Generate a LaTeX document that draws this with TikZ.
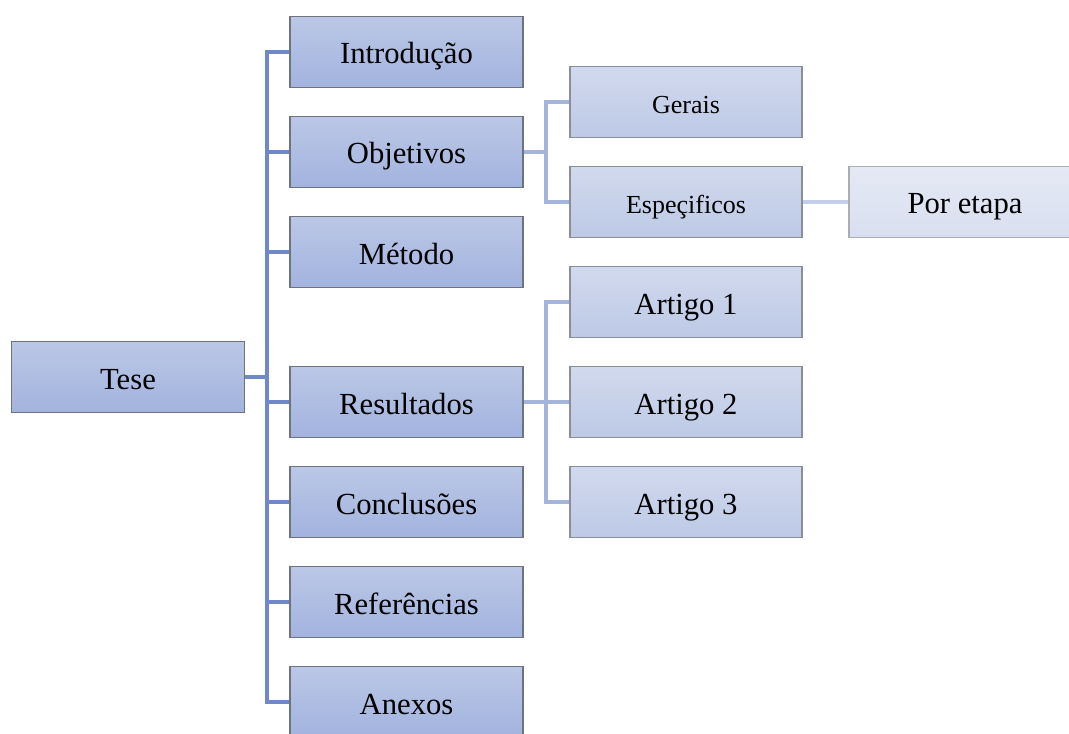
\documentclass[tikz,border=0pt]{standalone}
\usepackage{fontspec}
\setmainfont{Liberation Serif}
\usetikzlibrary{positioning}
\definecolor{topA}{HTML}{BBC7E6}
\definecolor{botA}{HTML}{A2B3DE}
\definecolor{topB}{HTML}{D1D9ED}
\definecolor{botB}{HTML}{BDC9E6}
\definecolor{topC}{HTML}{E4E9F4}
\definecolor{botC}{HTML}{D9DFF0}
\definecolor{edgeA}{HTML}{6E737D}
\definecolor{edgeB}{HTML}{8A8E96}
\definecolor{edgeC}{HTML}{ABADB2}
\definecolor{linkA}{HTML}{6F88C9}
\definecolor{linkB}{HTML}{A4B4DC}
\definecolor{linkC}{HTML}{C4CEE8}

\begin{document}
\begin{tikzpicture}[x=0.75pt,y=-0.75pt,
  box/.style={draw=edgeA, line width=0.9pt, top color=topA, bottom color=botA,
    minimum width=174.75pt, minimum height=53.25pt, inner sep=0pt,
    text height=18pt, text depth=0pt,
    font=\fontsize{23}{27}\selectfont},
  subbox/.style={box, draw=edgeB, top color=topB, bottom color=botB,
    minimum width=174pt},
  leafbox/.style={subbox, draw=edgeC, top color=topC, bottom color=botC},
  trunk/.style={draw=linkA, line width=2.4pt},
  twig/.style={draw=linkB, line width=2.4pt},
  leaf/.style={draw=linkC, line width=2.4pt}]
\useasboundingbox (0,0) rectangle (1069,734);
\clip (0,0) rectangle (1069,734);

% root and first level
\node[box] (tese) at (128,377) {Tese};
\node[box] (intro) at (406.5,52) {Introdução};
\node[box] (obj) at (406.5,152) {Objetivos};
\node[box] (met) at (406.5,252) {Método};
\node[box] (res) at (406.5,402) {Resultados};
\node[box] (conc) at (406.5,502) {Conclusões};
\node[box] (ref) at (406.5,602) {Referências};
\node[box] (anex) at (406.5,702) {Anexos};

% second level
\node[subbox, font=\fontsize{19.5}{23}\selectfont] (gerais) at (686,102) {Gerais};
\node[subbox, font=\fontsize{19.5}{23}\selectfont] (espec) at (686,202) {Espeçificos};
\node[subbox] (art1) at (686,302) {Artigo 1};
\node[subbox] (art2) at (686,402) {Artigo 2};
\node[subbox] (art3) at (686,502) {Artigo 3};
\node[leafbox] (etapa) at (965,202) {Por etapa};

% connectors
\coordinate (spine) at (267,377);
\draw[trunk] (intro.west) -| (spine |- anex) -- (anex.west);
\draw[trunk] (tese.east) -- (spine);
\foreach \n in {obj,met,res,conc,ref}
  \draw[trunk] (spine |- \n) -- (\n.west);

\coordinate (objfork) at (546,152);
\draw[twig] (gerais.west) -| (objfork |- espec) -- (espec.west);
\draw[twig] (obj.east) -- (objfork);

\coordinate (resfork) at (546,402);
\draw[twig] (art1.west) -| (resfork |- art3) -- (art3.west);
\draw[twig] (res.east) -- (art2.west);

\draw[leaf] (espec.east) -- (etapa.west);
\end{tikzpicture}
\end{document}
